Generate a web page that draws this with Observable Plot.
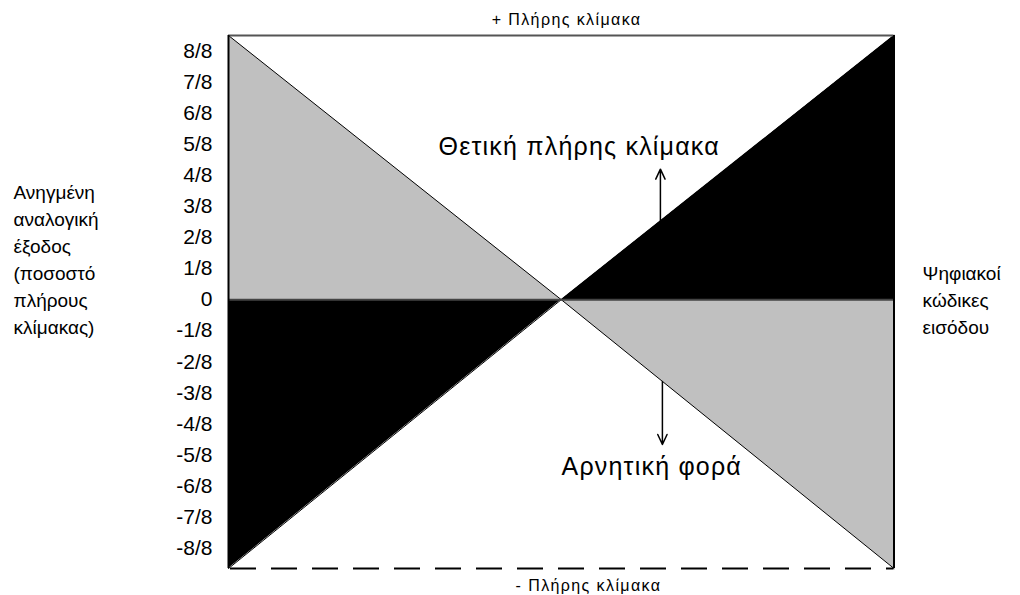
<!DOCTYPE html>
<html>
<head>
<meta charset="utf-8">
<script src="https://cdn.jsdelivr.net/npm/d3@7"></script>
<script src="https://cdn.jsdelivr.net/npm/@observablehq/plot@0.6"></script>
<style>
  html, body { margin: 0; padding: 0; background: #fff; }
  #chart svg { display: block; }
</style>
</head>
<body>
<div id="chart"></div>
<script>
// Input codes (normalised 0..1) and output levels in eighths of full scale
const codes = [0, 0.5, 1];
const fullScaleTop = 8.5;      // + full scale (frame top)
const fullScaleBottom = -8.65; // - full scale (frame bottom)
const negativeOutput = [fullScaleTop, 0, fullScaleBottom];   // descending diagonal
const positiveOutput = [fullScaleBottom, 0, fullScaleTop];   // ascending diagonal
const yTicks = [-8, -7, -6, -5, -4, -3, -2, -1, 0, 1, 2, 3, 4, 5, 6, 7, 8];
const tickLabels = ["-8/8", "-7/8", "-6/8", "-5/8", "-4/8", "-3/8", "-2/8", "-1/8", "0",
                    "1/8", "2/8", "3/8", "4/8", "5/8", "6/8", "7/8", "8/8"];
const arrowCodes = [0.649, 0.652];
const arrowTips = [4.2, -4.66];

const labelPositive = "Θετική πλήρης κλίμακα";
const labelNegative = "Αρνητική φορά";
const labelTop = "+ Πλήρης κλίμακα";
const labelBottom = "- Πλήρης κλίμακα";
const labelY = "Ανηγμένη\nαναλογική\nέξοδος\n(ποσοστό\nπλήρους\nκλίμακας)";
const labelX = "Ψηφιακοί\nκώδικες\nεισόδου";

const descending = codes.map((x, i) => ({x, y: negativeOutput[i]}));
const ascending = codes.map((x, i) => ({x, y: positiveOutput[i]}));
const slope = (arr, x) => x <= 0.5 ? arr[0] * (0.5 - x) / 0.5 : arr[2] * (x - 0.5) / 0.5;
const arrows = [
  {x: arrowCodes[0], y1: slope(positiveOutput, arrowCodes[0]), y2: arrowTips[0]},
  {x: arrowCodes[1], y1: slope(negativeOutput, arrowCodes[1]), y2: arrowTips[1]}
];
const labelOf = d => tickLabels[yTicks.indexOf(d)];

const font = "'Liberation Sans', Arial, sans-serif";

const chart = Plot.plot({
  width: 1020,
  height: 595,
  marginLeft: 228,
  marginRight: 126.5,
  marginTop: 35,
  marginBottom: 27,
  style: {fontFamily: font, background: "#fff", color: "#000", overflow: "visible"},
  x: {domain: [0, 1], axis: null},
  y: {domain: [fullScaleBottom, fullScaleTop], axis: null},
  marks: [
    Plot.areaY(descending, {x: "x", y1: 0, y2: "y", fill: "#c0c0c0"}),
    Plot.areaY(ascending, {x: "x", y1: 0, y2: "y", fill: "#000"}),
    Plot.line(descending, {x: "x", y: "y", stroke: "#000", strokeWidth: 1}),
    Plot.line(ascending, {x: "x", y: "y", stroke: "#000", strokeWidth: 1}),
    Plot.ruleY([0], {x1: 0, x2: 1, stroke: "#444", strokeWidth: 2}),
    Plot.ruleY([fullScaleTop], {x1: 0, x2: 1, stroke: "#555", strokeWidth: 2}),
    Plot.ruleY([fullScaleBottom], {x1: 0, x2: 1, stroke: "#000", strokeWidth: 2, strokeDasharray: "26,15", strokeDashoffset: -2}),
    Plot.ruleX([0, 1], {y1: fullScaleBottom, y2: fullScaleTop, stroke: "#000", strokeWidth: 2}),
    Plot.arrow(arrows, {x: "x", y1: "y1", x2: "x", y2: "y2", stroke: "#000", strokeWidth: 1.5, headLength: 11, headAngle: 50, insetEnd: 0, insetStart: 0}),
    Plot.axisY(yTicks, {ticks: yTicks, tickFormat: labelOf, tickSize: 0, tickPadding: 16, fontSize: 21, fill: "#000", label: null}),
    Plot.text([labelPositive], {x: 0.527, y: 4.9, fontSize: 25, fill: "#000", fontFamily: font}),
    Plot.text([labelNegative], {x: 0.636, y: -5.4, fontSize: 25, fill: "#000", fontFamily: font}),
    Plot.text([labelTop], {x: 0.508, y: fullScaleTop, dy: -16, fontSize: 16, fill: "#000", fontFamily: font}),
    Plot.text([labelBottom], {x: 0.541, y: fullScaleBottom, dy: 17, fontSize: 16, fill: "#000", fontFamily: font}),
    Plot.text([labelY], {x: -0.323, y: 1.34, textAnchor: "start", lineAnchor: "middle", lineHeight: 1.42, fontSize: 19, fill: "#000", fontFamily: font}),
    Plot.text([labelX], {x: 1.043, y: 0.04, textAnchor: "start", lineAnchor: "middle", lineHeight: 1.42, fontSize: 19, fill: "#000", fontFamily: font})
  ]
});
document.getElementById("chart").appendChild(chart);

const d3c = d3.select(chart);
d3c.selectAll("text").filter(function() { return this.textContent === labelPositive || this.textContent === labelNegative; })
  .style("letter-spacing", "1.2px");
d3c.selectAll("text").filter(function() { return this.textContent === labelTop || this.textContent === labelBottom; })
  .style("letter-spacing", "1.4px");
</script>
</body>
</html>
